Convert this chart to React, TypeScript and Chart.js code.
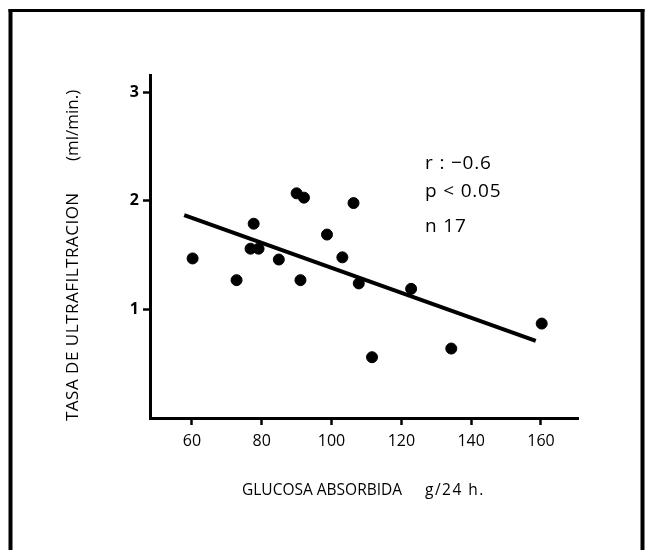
import React, { useEffect, useRef } from 'react';
import { Chart, registerables } from 'chart.js';

Chart.register(...registerables);

// Data
const glucose = [60.2, 72.8, 76.8, 77.7, 79.1, 84.9, 90.0, 91.1, 92.1, 98.7, 103.1, 106.3, 107.8, 111.6, 122.8, 134.3, 160.2];
const ultrafiltration = [1.47, 1.27, 1.56, 1.79, 1.56, 1.46, 2.07, 1.27, 2.03, 1.69, 1.48, 1.98, 1.24, 0.56, 1.19, 0.64, 0.87];
const regressionX = [57.8, 158.5];
const regressionY = [1.87, 0.71];
const xTicks = [60, 80, 100, 120, 140, 160];
const yTicks = [1, 2, 3];
const statsLines = ['r : \u22120.6', 'p < 0.05', 'n 17'];
const xTitleMain = 'GLUCOSA ABSORBIDA';
const xTitleUnit = 'g/24 h.';
const yTitleMain = 'TASA DE ULTRAFILTRACION';
const yTitleUnit = '(ml/min.)';

const FONT = '"Open Sans", Lato, "DejaVu Sans", sans-serif';

const decorPlugin = {
  id: 'decor',
  beforeDraw(chart: any) {
    const ctx = chart.ctx;
    ctx.save();
    ctx.fillStyle = '#fff';
    ctx.fillRect(0, 0, chart.width, chart.height);
    ctx.restore();
  },
  afterDraw(chart: any) {
    const ctx = chart.ctx;
    const xs = chart.scales.x;
    const ys = chart.scales.y;
    ctx.save();
    // frame
    ctx.strokeStyle = '#000';
    ctx.lineCap = 'butt';
    ctx.lineWidth = 4;
    ctx.beginPath();
    ctx.moveTo(10.5, 9);
    ctx.lineTo(10.5, chart.height);
    ctx.stroke();
    ctx.beginPath();
    ctx.moveTo(642.5, 9);
    ctx.lineTo(642.5, chart.height);
    ctx.stroke();
    ctx.lineWidth = 3;
    ctx.beginPath();
    ctx.moveTo(8.5, 10.5);
    ctx.lineTo(644.5, 10.5);
    ctx.stroke();

    ctx.fillStyle = '#000';
    ctx.textBaseline = 'middle';
    ctx.textAlign = 'left';
    // x title
    ctx.font = `15.5px ${FONT}`;
    ctx.fillText(xTitleMain, 242, 491);
    (ctx as any).letterSpacing = '1.5px';
    ctx.fillText(xTitleUnit, 425, 491);
    (ctx as any).letterSpacing = '0px';
    // y title
    ctx.save();
    ctx.font = `17px ${FONT}`;
    ctx.translate(73, 0);
    ctx.rotate(-Math.PI / 2);
    (ctx as any).letterSpacing = '0.5px';
    ctx.fillText(yTitleMain, -421, 0);
    (ctx as any).letterSpacing = '0px';
    ctx.fillText(yTitleUnit, -161, 0);
    ctx.restore();
    // stats
    ctx.font = `19px ${FONT}`;
    (ctx as any).letterSpacing = '0.8px';
    const sx = xs.getPixelForValue(126.8);
    const sy = [2.34, 2.09, 1.76];
    statsLines.forEach((t, i) => {
      ctx.fillText(t, sx, ys.getPixelForValue(sy[i]));
    });
    (ctx as any).letterSpacing = '0px';
    ctx.restore();
  },
};

export default function App() {
  const ref = useRef<HTMLCanvasElement | null>(null);
  useEffect(() => {
    if (!ref.current) return;
    const chart = new Chart(ref.current, {
      type: 'scatter',
      data: {
        datasets: [
          {
            label: 'Pacientes',
            data: glucose.map((x, i) => ({ x, y: ultrafiltration[i] })),
            backgroundColor: '#000',
            borderColor: '#000',
            pointRadius: 5.5,
            pointHoverRadius: 5.5,
          },
          {
            type: 'line',
            label: 'Regresión',
            data: regressionX.map((x, i) => ({ x, y: regressionY[i] })),
            borderColor: '#000',
            borderWidth: 4,
            pointRadius: 0,
            showLine: true,
            fill: false,
          } as any,
        ],
      },
      options: {
        responsive: false,
        animation: false,
        events: [],
        layout: { padding: { left: 0, top: 75, right: 70, bottom: 0 } },
        plugins: {
          legend: { display: false },
          tooltip: { enabled: false },
        },
        scales: {
          x: {
            type: 'linear',
            min: 48,
            max: 170.6,
            afterBuildTicks: (s: any) => {
              s.ticks = xTicks.map((v) => ({ value: v }));
            },
            afterFit: (s: any) => {
              s.height = 132;
            },
            border: { display: true, color: '#000', width: 3 },
            grid: { display: true, drawOnChartArea: false, drawTicks: true, tickLength: 7, tickWidth: 2.5, color: '#000' },
            ticks: { color: '#000', font: { family: FONT, size: 16 }, padding: 7, maxRotation: 0 },
          },
          y: {
            type: 'linear',
            min: 0,
            max: 3.16,
            afterBuildTicks: (s: any) => {
              s.ticks = yTicks.map((v) => ({ value: v }));
            },
            afterFit: (s: any) => {
              s.width = 150;
            },
            border: { display: true, color: '#000', width: 3 },
            grid: { display: true, drawOnChartArea: false, drawTicks: true, tickLength: 7, tickWidth: 2.5, color: '#000' },
            ticks: { color: '#000', font: { family: FONT, size: 16, weight: 'bold' }, padding: 4 },
          },
        },
      },
      plugins: [decorPlugin],
    });
    return () => chart.destroy();
  }, []);
  return (
    <div style={{ position: 'fixed', left: 0, top: 0, width: 648, height: 550, background: '#fff' }}>
      <canvas ref={ref} width={648} height={550} style={{ display: 'block' }} />
    </div>
  );
}
